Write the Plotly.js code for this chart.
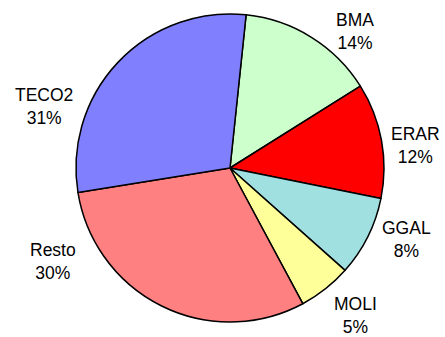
<!DOCTYPE html>
<html>
<head>
<meta charset="utf-8">
<script src="https://cdn.plot.ly/plotly-3.0.1.min.js"></script>
<style>html,body{margin:0;padding:0;background:#fff;}#chart{width:445px;height:337px;}</style>
</head>
<body>
<div id="chart"></div>
<script>
// Data
const labels = ["BMA", "ERAR", "GGAL", "MOLI", "Resto", "TECO2"];
const values = [14.4, 12.1, 8.4, 5.6, 30.3, 29.2];      // slice sizes (from slice angles)
const shares = [14, 12, 8, 5, 30, 31];                   // percentages printed on the chart
const colors = ["#ccffcc", "#ff0000", "#a0e0e0", "#ffff99", "#ff8080", "#8080ff"];

// Layout: label box centres in pixels (text placement only)
const labelPx = [[355, 32], [415, 145], [406, 239], [355, 315], [53, 261], [44, 106]];

const W = 445, H = 337;
const M = {l: 15, r: 0, t: 14, b: 15};
const pw = W - M.l - M.r, ph = H - M.t - M.b;

const annotations = labels.map((lab, i) => ({
  text: lab + "<br>" + shares[i] + "%",
  xref: "paper", yref: "paper",
  x: (labelPx[i][0] - M.l) / pw,
  y: 1 - (labelPx[i][1] - M.t) / ph,
  xanchor: "center", yanchor: "middle",
  align: "center",
  showarrow: false,
  borderpad: 0,
  font: {family: "Liberation Sans, Arial, sans-serif", size: 17.5, color: "#000000"}
}));

Plotly.newPlot("chart", [{
  type: "pie",
  labels: labels,
  values: values,
  sort: false,
  direction: "clockwise",
  rotation: 6,
  marker: {colors: colors, line: {color: "#000000", width: 1.5}},
  textinfo: "none",
  hoverinfo: "none",
  showlegend: false
}], {
  width: W,
  height: H,
  margin: M,
  paper_bgcolor: "#ffffff",
  showlegend: false,
  annotations: annotations
}, {displayModeBar: false, staticPlot: true});
</script>
</body>
</html>
